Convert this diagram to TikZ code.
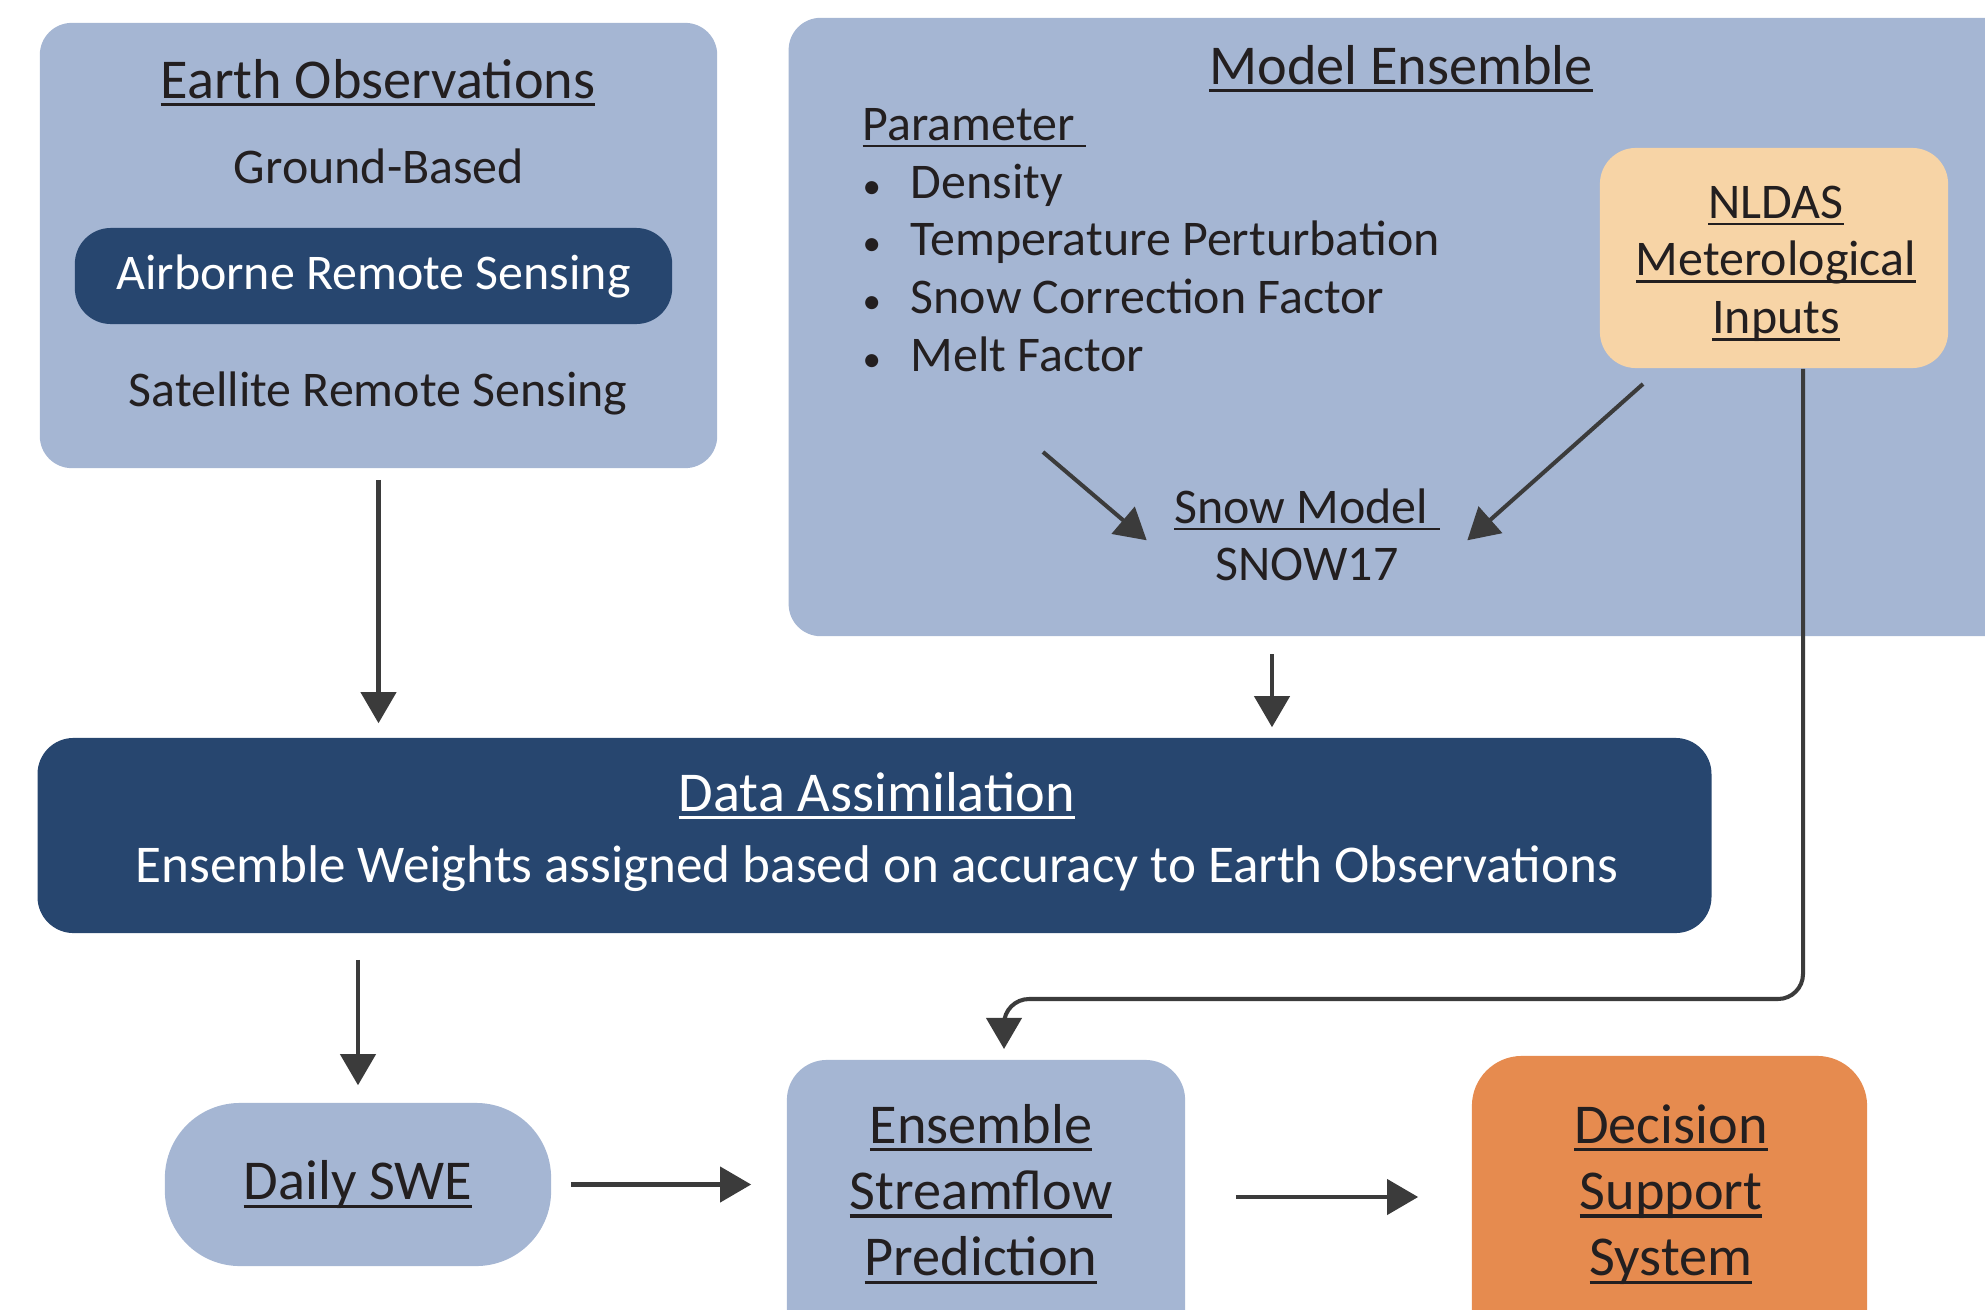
\documentclass[tikz,border=0pt]{standalone}
\usepackage{fontspec}
\setmainfont{Carlito}
\usetikzlibrary{arrows.meta, positioning, calc}
\definecolor{paleBlue}{HTML}{A5B6D3}
\definecolor{navyFill}{HTML}{27466F}
\definecolor{peachFill}{HTML}{F7D4A6}
\definecolor{dssFill}{HTML}{E68B4F}
\definecolor{inkText}{HTML}{231F20}
\definecolor{arrowDark}{HTML}{3B3B3B}

% underline that sits just below the baseline
\newcommand{\undr}[1]{\setbox0=\hbox{#1}\rlap{\rule[-0.15em]{\wd0}{0.055em}}\box0}
\newcommand{\dotitem}{\makebox[0.48cm][l]{\fontsize{10.5}{10}\selectfont\textbullet}}

\begin{document}
\begin{tikzpicture}[
  x=0.01cm, y=-0.01cm,
  font=\fontsize{14.2}{16.4}\selectfont,
  panel/.style ={rounded corners=0.32cm, fill=paleBlue, draw=none, text=inkText},
  txt/.style   ={text=inkText, inner sep=0pt},
  title/.style ={txt, font=\fontsize{16}{18.8}\selectfont, anchor=base},
  flow/.style  ={-{Triangle[length=0.31cm, width=0.35cm]}, draw=arrowDark, line width=1.15pt},
]
\useasboundingbox (0,0) rectangle (1985,1309);

% ----- Earth Observations -----
\node[panel, minimum width=6.77cm, minimum height=4.45cm] (EO) at (378.5,245.5) {};
\node[title] (EOtitle) at (378,98) {\undr{Earth Observations}};
\node[txt, anchor=base] (GROUND) at (379,183) {Ground-Based};
\node[panel, fill=navyFill, text=white, rounded corners=0.36cm,
      minimum width=5.97cm, minimum height=0.96cm] (AIR) at (373.5,276) {Airborne Remote Sensing};
\node[txt, anchor=base] (SAT) at (378,406) {Satellite Remote Sensing};

% ----- Model Ensemble -----
\node[panel, minimum width=12.71cm, minimum height=6.18cm] (ME) at (1424.5,327) {};
\node[title] (MEtitle) at (1401,84) {\undr{Model Ensemble}};
\node[txt, anchor=base west] (PARAM) at (862,140) {\undr{Parameter\ }};
\node[txt, anchor=base west] (PLIST) at (862,198)
  {\begin{tabular}[t]{@{}l@{}}
     \dotitem Density\\
     \dotitem Temperature Perturbation\\
     \dotitem Snow Correction Factor\\
     \dotitem Melt Factor
   \end{tabular}};

\node[panel, fill=peachFill, rounded corners=0.36cm,
      minimum width=3.48cm, minimum height=2.2cm] (NLDAS) at (1774,258) {};
\node[txt, anchor=base] (NLDAStext) at (1776,218)
  {\begin{tabular}[t]{@{}c@{}}\undr{NLDAS}\\\undr{Meterological}\\\undr{Inputs}\end{tabular}};

\node[txt, inner sep=0.27cm, anchor=base] (SNOW) at (1307,523)
  {\begin{tabular}[t]{@{}c@{}}\undr{Snow Model\ }\\SNOW17\end{tabular}};

\coordinate (parOut) at (1043,452);
\coordinate (metOut) at (1643,384);
\draw[flow] (parOut) -- (SNOW.west);
\draw[flow] (metOut) -- (SNOW.east);

% ----- Data Assimilation -----
\node[panel, fill=navyFill, rounded corners=0.36cm,
      minimum width=16.73cm, minimum height=1.95cm] (DA) at (874.5,835.5) {};
\node[title, text=white] (DAtitle) at (877,811) {\undr{Data Assimilation}};
\node[txt, text=white, anchor=base, font=\fontsize{15.1}{18}\selectfont] (DAnote) at (877,882.5)
  {Ensemble Weights assigned based on accuracy to Earth Observations};

% ----- Bottom row -----
\node[panel, rounded corners=0.75cm, font=\fontsize{16}{18.8}\selectfont,
      minimum width=3.86cm, minimum height=1.63cm] (SWE) at (358,1184.5) {\undr{Daily SWE}};

\node[panel, rounded corners=0.4cm, minimum width=3.98cm, minimum height=3cm] (ESP) at (986,1210) {};
\node[title] (ESPtext) at (981,1143)
  {\begin{tabular}[t]{@{}c@{}}\undr{Ensemble}\\\undr{Streamflow}\\\undr{Prediction}\end{tabular}};

\node[panel, fill=dssFill, rounded corners=0.5cm, minimum width=3.95cm, minimum height=3.04cm] (DSS) at (1669.5,1208) {};
\node[title] (DSStext) at (1671,1143)
  {\begin{tabular}[t]{@{}c@{}}\undr{Decision}\\\undr{Support}\\\undr{System}\end{tabular}};

% ----- Arrows -----
\coordinate (meDrop) at (1272,654);
\coordinate (rowMid) at (0,1197);
\coordinate (metBend) at (1803,999);
\coordinate (espIn) at (1004,1049);

\draw[flow, shorten <=0.11cm, shorten >=0.14cm] (EO.south) -- (EO.south |- DA.north);
\draw[flow, shorten >=0.1cm] (meDrop) -- (meDrop |- DA.north);
\draw[flow, shorten <=0.26cm, shorten >=0.17cm] (SWE.north |- DA.south) -- (SWE.north);
\draw[flow, shorten <=0.19cm, shorten >=0.35cm] (SWE.east) -- (SWE.east -| ESP.west);
\draw[flow, shorten <=0.5cm, shorten >=0.53cm] (ESP.east |- rowMid) -- (DSS.west |- rowMid);

% NLDAS forcing routed down to the streamflow prediction
\draw[flow, rounded corners=0.25cm] (NLDAS.south -| metBend) -- (metBend) -| (espIn);

\end{tikzpicture}
\end{document}
